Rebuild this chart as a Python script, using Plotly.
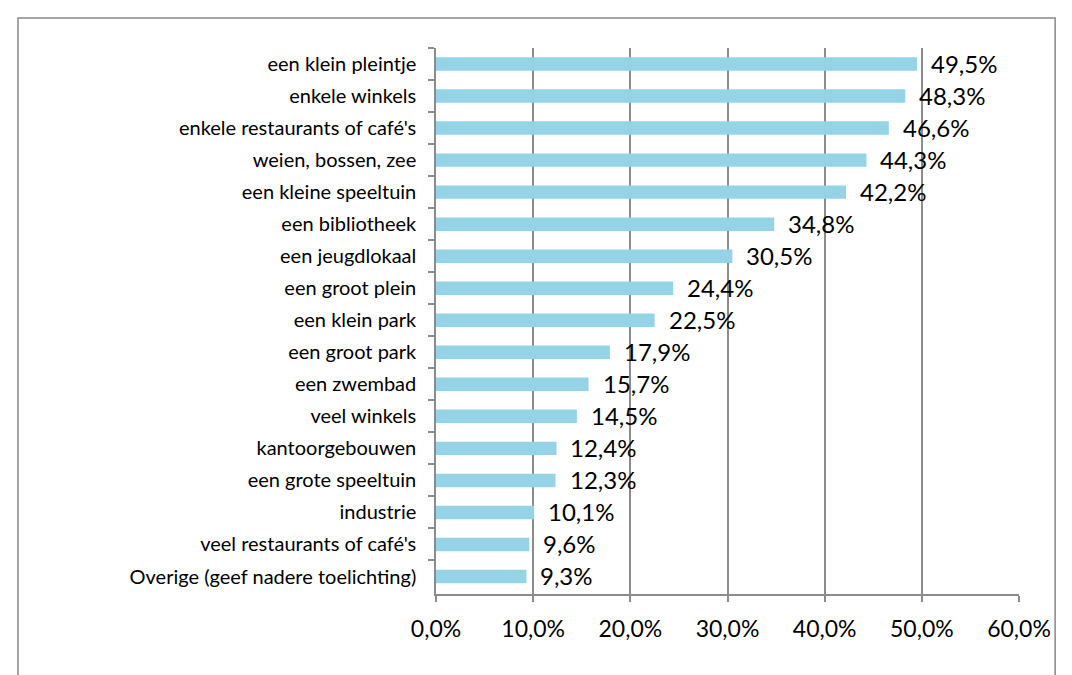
import plotly.graph_objects as go

categories = [
    "een klein pleintje", "enkele winkels", "enkele restaurants of café's",
    "weien, bossen, zee", "een kleine speeltuin", "een bibliotheek",
    "een jeugdlokaal", "een groot plein", "een klein park", "een groot park",
    "een zwembad", "veel winkels", "kantoorgebouwen", "een grote speeltuin",
    "industrie", "veel restaurants of café's", "Overige (geef nadere toelichting)",
]
values = [49.5, 48.3, 46.6, 44.3, 42.2, 34.8, 30.5, 24.4, 22.5, 17.9,
          15.7, 14.5, 12.4, 12.3, 10.1, 9.6, 9.3]
x_ticks = [0, 10, 20, 30, 40, 50, 60]

FONT = "Lato"
GRID = "#8c8c8c"

fig = go.Figure()
fig.add_trace(go.Bar(
    x=values, y=categories, orientation="h",
    marker=dict(color="#95D3E6", line=dict(width=0)),
    hoverinfo="skip",
))

for c, v in zip(categories, values):
    fig.add_annotation(
        x=v, y=c, text=f"{v:.1f}".replace(".", ",") + "%",
        xanchor="left", yanchor="middle", xshift=12, yshift=1,
        showarrow=False, font=dict(family=FONT, size=24, color="#000"),
    )

fig.add_shape(type="rect", xref="paper", yref="paper",
              x0=-0.717, x1=1.062, y0=-0.25, y1=1.055,
              line=dict(color="#888888", width=1.5), layer="below")

fig.update_layout(
    width=1072, height=675,
    margin=dict(l=428, r=61, t=40, b=89),
    paper_bgcolor="white", plot_bgcolor="white",
    bargap=0.58, showlegend=False,
    separators=",.",
    xaxis=dict(
        range=[0, 60], tickvals=x_ticks,
        ticktext=[f"{t:.1f}".replace(".", ",") + "%" for t in x_ticks],
        showgrid=True, gridcolor=GRID, gridwidth=1.5,
        zeroline=False, showline=True, linecolor=GRID, linewidth=1.5,
        ticks="outside", ticklen=6, tickcolor=GRID, tickwidth=1.5,
        ticklabelstandoff=8,
        tickfont=dict(family=FONT, size=23, color="#000"),
        fixedrange=True,
    ),
    yaxis=dict(
        categoryorder="array", categoryarray=categories,
        autorange="reversed", tickson="boundaries",
        showline=True, linecolor=GRID, linewidth=1.5,
        ticks="outside", ticklen=6, tickcolor=GRID, tickwidth=1.5,
        ticklabelstandoff=14,
        tickfont=dict(family=FONT, size=20, color="#000"),
        showgrid=False, zeroline=False, fixedrange=True,
    ),
)

fig.write_html("out.html")
